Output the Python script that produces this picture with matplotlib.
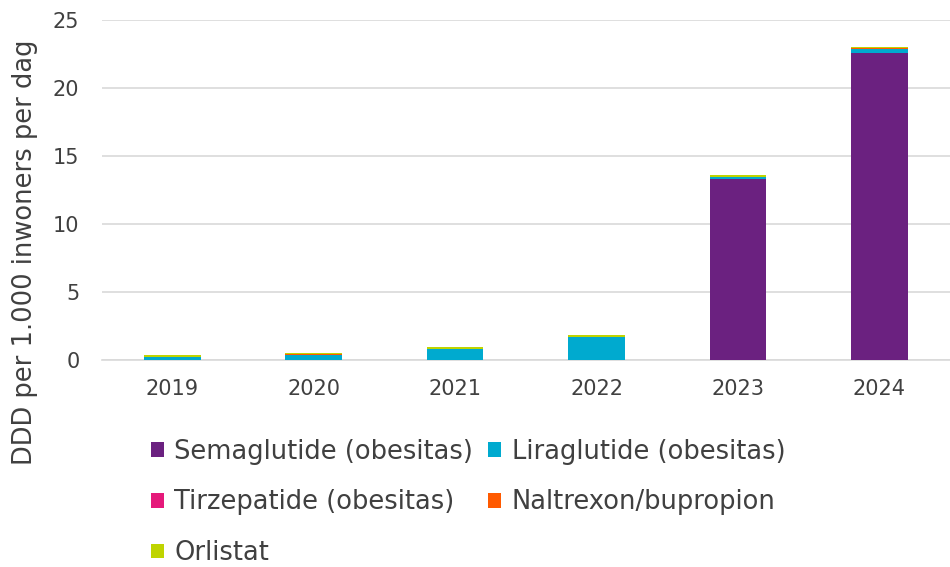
import matplotlib
matplotlib.use("Agg")
import matplotlib.pyplot as plt
import numpy as np

plt.rcParams['font.family'] = ['DejaVu Sans']

years = ['2019', '2020', '2021', '2022', '2023', '2024']
semaglutide = [0.0, 0.0, 0.0, 0.0, 13.3, 22.6]
liraglutide = [0.2, 0.37, 0.78, 1.69, 0.12, 0.25]
tirzepatide = [0.0, 0.0, 0.0, 0.0, 0.0, 0.03]
naltrexon = [0.05, 0.04, 0.05, 0.03, 0.04, 0.05]
orlistat = [0.12, 0.1, 0.15, 0.12, 0.12, 0.1]

series = [
    ('Semaglutide (obesitas)', semaglutide, '#6B2180'),
    ('Liraglutide (obesitas)', liraglutide, '#00AACF'),
    ('Tirzepatide (obesitas)', tirzepatide, '#E5197A'),
    ('Naltrexon/bupropion', naltrexon, '#FF5A00'),
    ('Orlistat', orlistat, '#BFD400'),
]

fig = plt.figure(figsize=(9.5, 5.67), dpi=100)
ax = fig.add_axes([0.107, 0.365, 0.893, 0.6])
x = np.arange(len(years))
bottom = np.zeros(len(years))
handles = []
for name, vals, col in series:
    b = ax.bar(x, vals, 0.4, bottom=bottom, color=col, label=name, zorder=3)
    bottom += np.array(vals)
    handles.append(b)

ax.set_xlim(-0.5, len(years) - 0.5)
ax.set_ylim(0, 25)
ax.set_yticks([0, 5, 10, 15, 20, 25])
ax.set_xticks(x)
ax.set_xticklabels(years)
ax.yaxis.grid(True, color='#D9D9D9', linewidth=1.2, zorder=0)
for s in ['top', 'right', 'left']:
    ax.spines[s].set_visible(False)
ax.spines['bottom'].set_color('#D9D9D9')
ax.spines['bottom'].set_linewidth(1.2)
ax.tick_params(axis='both', length=0, labelsize=15, colors='#404040')
ax.tick_params(axis='x', pad=14)
ax.tick_params(axis='y', pad=16)
ax.set_ylabel('DDD per 1.000 inwoners per dag', fontsize=18.5, color='#404040')
ax.yaxis.set_label_coords(-0.075, 0.318)

# row-major ordering for a 2-column legend
order = [0, 2, 4, 1, 3]
leg = fig.legend(handles=[handles[i] for i in order],
                 labels=[series[i][0] for i in order],
                 loc='upper left', bbox_to_anchor=(0.1455, 0.249),
                 ncol=2, frameon=False, fontsize=18.5, labelcolor='#404040',
                 handlelength=0.5, handleheight=0.5, handletextpad=0.4,
                 columnspacing=0.6, labelspacing=0.96, borderpad=0)
fig.savefig('out.png', dpi=100)
